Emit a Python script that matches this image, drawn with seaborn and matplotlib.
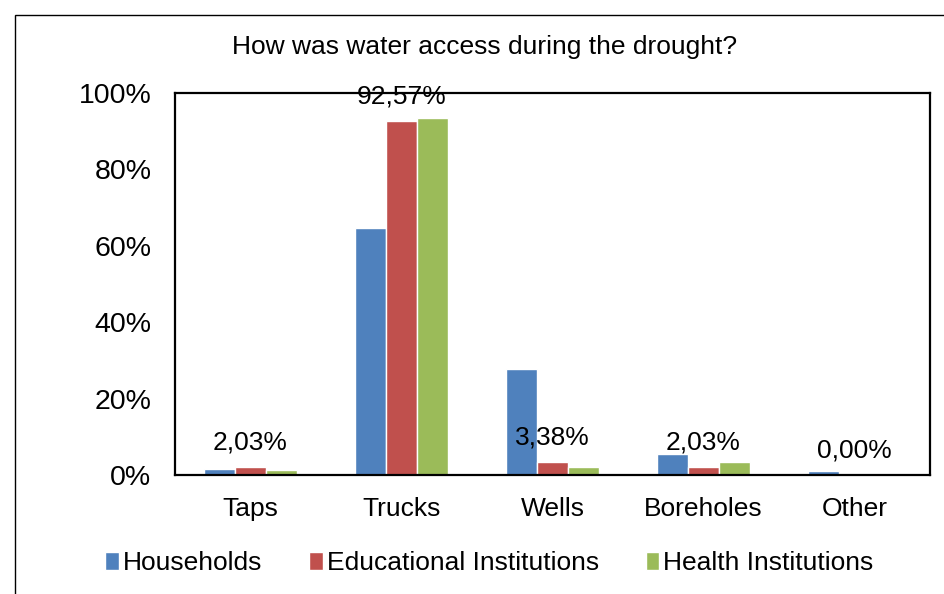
import pandas as pd
import numpy as np
import matplotlib.pyplot as plt
import seaborn as sns
from matplotlib.patches import Rectangle
from matplotlib.ticker import FuncFormatter

categories = ['Taps', 'Trucks', 'Wells', 'Boreholes', 'Other']
households = [1.6, 64.7, 27.7, 5.5, 1.0]
educational = [2.03, 92.57, 3.38, 2.03, 0.00]
health = [1.3, 93.5, 2.1, 3.38, 0.0]
series_names = ['Households', 'Educational Institutions', 'Health Institutions']
colors = ['#4F81BD', '#C0504D', '#9BBB59']

rows = []
for name, vals in zip(series_names, [households, educational, health]):
    for cat, v in zip(categories, vals):
        rows.append({'Source': cat, 'Group': name, 'Value': v})
df = pd.DataFrame(rows)

sns.set_style('white')
plt.rcParams['font.family'] = ['Liberation Sans', 'DejaVu Sans']
plt.rcParams['text.color'] = 'black'
plt.rcParams['xtick.color'] = 'black'
plt.rcParams['ytick.color'] = 'black'

fig = plt.figure(figsize=(9.45, 5.94), dpi=100)
ax = fig.add_axes([175 / 945, 1 - 475 / 594, 755 / 945, 382 / 594])

sns.barplot(data=df, x='Source', y='Value', hue='Group', order=categories,
            hue_order=series_names, palette=colors, width=0.62,
            saturation=1, ax=ax, legend=True)

ax.set_ylim(0, 100)
ax.set_yticks(np.arange(0, 101, 20))
ax.yaxis.set_major_formatter(FuncFormatter(lambda v, p: f'{v:.0f}%'))
ax.tick_params(axis='y', length=0, pad=17, labelsize=20.5)
ax.tick_params(axis='x', length=0, pad=16, labelsize=19)
ax.set_xlabel('')
ax.set_ylabel('')
for s in ax.spines.values():
    s.set_visible(True)
    s.set_color('black')
    s.set_linewidth(1.6)

# data labels on the educational series only
edu_labels = [f'{v:.2f}%'.replace('.', ',') for v in educational]
ax.bar_label(ax.containers[1], labels=edu_labels, padding=9, fontsize=19)
for t in ax.texts:
    t.set_clip_on(False)

handles, labels = ax.get_legend_handles_labels()
ax.get_legend().remove()
fig.legend(handles, labels, loc='center', bbox_to_anchor=(0.518, 1 - 563 / 594),
           ncol=3, frameon=False, fontsize=19, handlelength=0.5,
           handleheight=0.7, handletextpad=0.15, columnspacing=1.8)

fig.text(0.513, 1 - 47 / 594, 'How was water access during the drought?',
         ha='center', va='center', fontsize=19)

fig.patches.append(Rectangle((15 / 945, -0.1), 1.0, 1 - 15 / 594 + 0.1,
                             transform=fig.transFigure, fill=False,
                             edgecolor='black', linewidth=1.0))

fig.savefig('out.png', dpi=100)
